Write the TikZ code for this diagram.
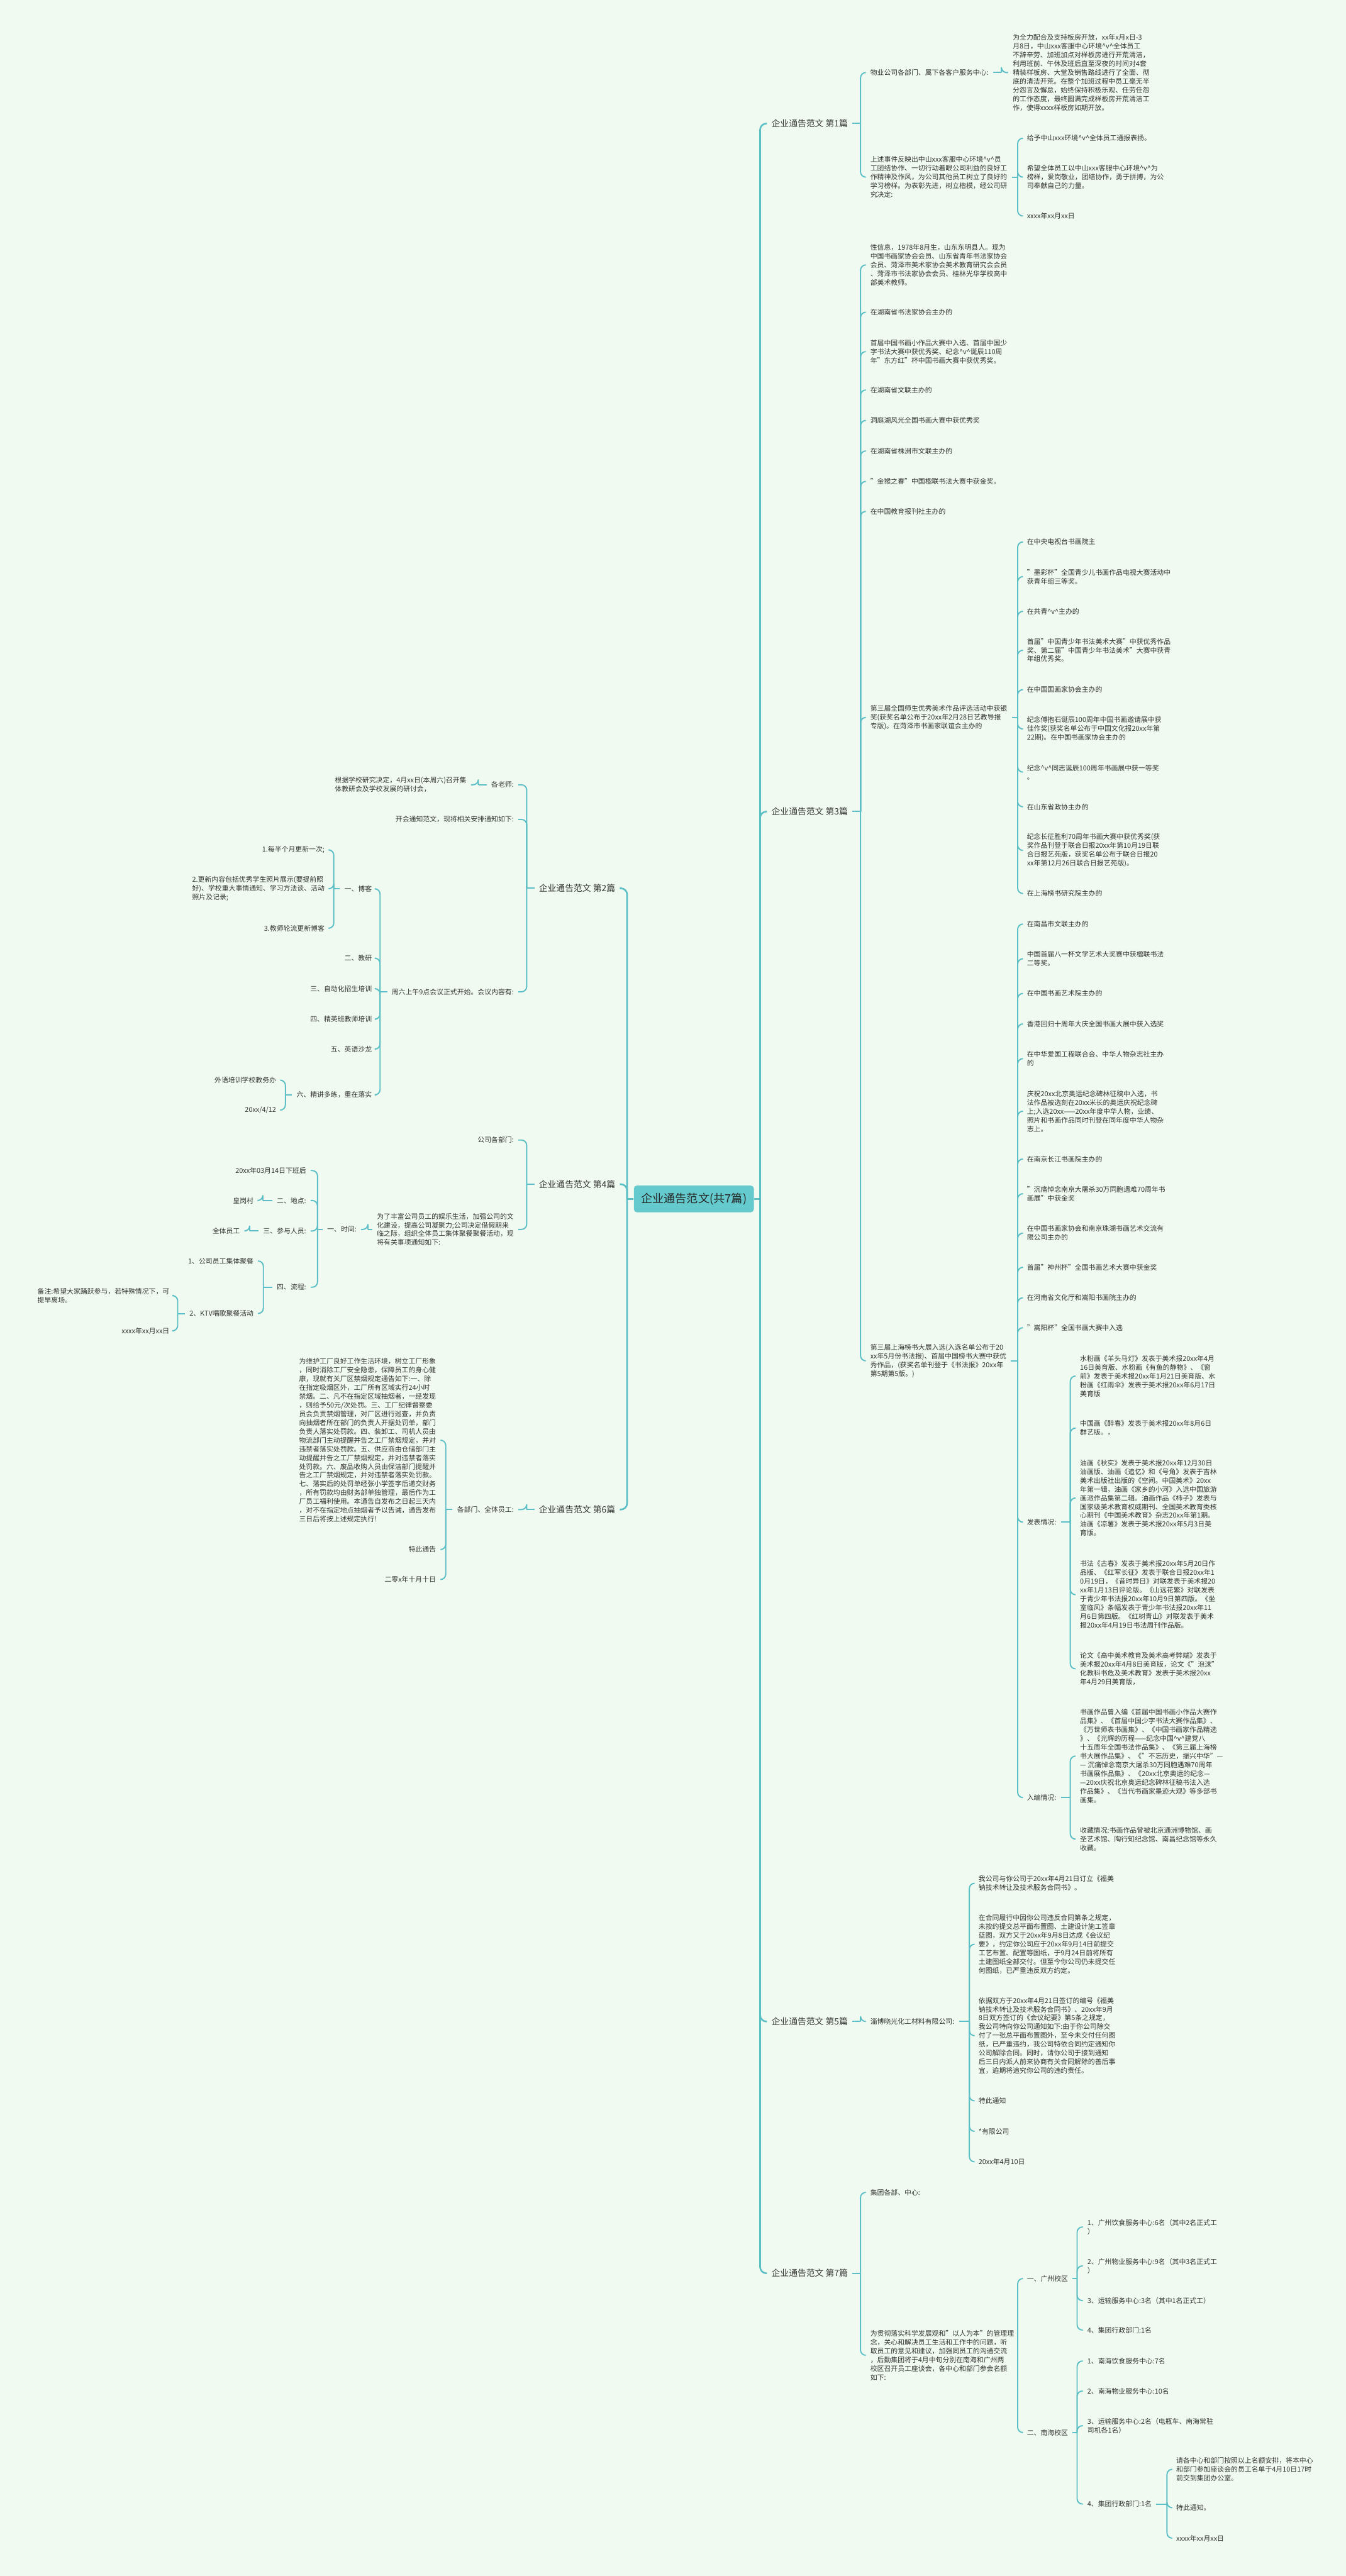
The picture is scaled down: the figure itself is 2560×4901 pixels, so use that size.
\documentclass[tikz,border=0pt]{standalone}
\usepackage{fontspec}
\setmainfont{Noto Sans CJK SC}
\definecolor{bg}{HTML}{F0FAF0}
\definecolor{ln}{HTML}{5CBFC6}
\definecolor{cfill}{HTML}{64CACD}
\definecolor{txt}{HTML}{333333}
\newcommand\vv{\textasciicircum v\textasciicircum}
\tikzset{
  txtnode/.style={font=\fontsize{3.7pt}{4.75pt}\selectfont, text=txt, align=left, inner ysep=1pt, inner xsep=0.08cm},
  rnode/.style={txtnode, anchor=west, xshift=-0.08cm},
  lnode/.style={txtnode, anchor=east, xshift=0.08cm},
  secnode/.style={font=\fontsize{4.7pt}{6pt}\selectfont, text=txt, inner ysep=1pt, inner xsep=0.08cm},
  rsec/.style={secnode, anchor=west, xshift=-0.08cm},
  lsec/.style={secnode, anchor=east, xshift=0.08cm},
  conn/.style={draw=ln, line width=0.65pt, rounded corners=0.1cm},
  mainconn/.style={draw=ln, line width=0.9pt, rounded corners=0.12cm},
  rootnode/.style={fill=cfill, rounded corners=0.06cm, minimum width=2.28cm, minimum height=0.51cm, inner sep=0pt, font=\fontsize{6.2pt}{7pt}\selectfont, text=black!85}
}
\newcommand\rconn[3]{%
  \coordinate (sp) at (#2,0);
  \draw[conn] (#1.east) -- (#1.east -| sp);
  \foreach \cc in {#3}{\draw[conn] (#1.east -| sp) |- (\cc.west);}%
}
\newcommand\lconn[3]{%
  \coordinate (sp) at (#2,0);
  \draw[conn] (#1.west) -- (#1.west -| sp);
  \foreach \cc in {#3}{\draw[conn] (#1.west -| sp) |- (\cc.east);}%
}
\begin{document}
\begin{tikzpicture}[x=0.01cm,y=-0.01cm]
\fill[bg] (0,0) rectangle (2560,4901);
\useasboundingbox (0,0) rectangle (2560,4901);

% root
\node[rootnode] (root) at (1320,2281) {企业通告范文(共7篇)};

% section labels
\node[rsec] (s1) at (1467,235) {企业通告范文 第1篇};
\node[rsec] (s3) at (1467,1544) {企业通告范文 第3篇};
\node[rsec] (s5) at (1467,3846) {企业通告范文 第5篇};
\node[rsec] (s7) at (1467,4325) {企业通告范文 第7篇};
\node[lsec] (s2) at (1171,1690) {企业通告范文 第2篇};
\node[lsec] (s4) at (1171,2253) {企业通告范文 第4篇};
\node[lsec] (s6) at (1171,2872) {企业通告范文 第6篇};

\coordinate (rsp) at (1446,0);
\coordinate (lsp) at (1193,0);
\draw[mainconn] (root.east) -- (root.east -| rsp);
\foreach \s in {s1,s3,s5,s7}{\draw[mainconn] (root.east -| rsp) |- (\s.west);}
\draw[mainconn] (root.west) -- (root.west -| lsp);
\foreach \s in {s2,s4,s6}{\draw[mainconn] (root.west -| lsp) |- (\s.east);}

% ---------------- Section 1
\node[rnode] (a1) at (1655,138) {物业公司各部门、属下各客户服务中心:};
\node[rnode] (a1a) at (1926,138) {为全力配合及支持板房开放，xx年x月x日-3\\月8日，中山xxx客服中心环境\vv 全体员工\\不辞辛劳、加班加点对样板房进行开荒清洁，\\利用班前、午休及班后直至深夜的时间对4套\\精装样板房、大堂及销售路线进行了全面、彻\\底的清洁开荒。在整个加班过程中员工毫无半\\分怨言及懈怠，始终保持积极乐观、任劳任怨\\的工作态度，最终圆满完成样板房开荒清洁工\\作，使得xxxx样板房如期开放。};
\node[rnode] (a2) at (1655,337) {上述事件反映出中山xxx客服中心环境\vv 员\\工团结协作、一切行动着眼公司利益的良好工\\作精神及作风，为公司其他员工树立了良好的\\学习榜样。为表彰先进，树立楷模，经公司研\\究决定:};
\node[rnode] (a2a) at (1953,263) {给予中山xxx环境\vv 全体员工通报表扬。};
\node[rnode] (a2b) at (1953,337) {希望全体员工以中山xxx客服中心环境\vv 为\\榜样，爱岗敬业，团结协作，勇于拼搏，为公\\司奉献自己的力量。};
\node[rnode] (a2c) at (1953,411) {xxxx年xx月xx日};
\rconn{s1}{1637}{a1,a2}
\rconn{a1}{1905}{a1a}
\rconn{a2}{1936}{a2a,a2b,a2c}

% ---------------- Section 3
\node[rnode] (b1) at (1655,504) {性信息，1978年8月生，山东东明县人。现为\\中国书画家协会会员、山东省青年书法家协会\\会员、菏泽市美术家协会美术教育研究会会员\\、菏泽市书法家协会会员、桂林光华学校高中\\部美术教师。};
\node[rnode] (b2) at (1655,594) {在湖南省书法家协会主办的};
\node[rnode] (b3) at (1655,669) {首届中国书画小作品大赛中入选、首届中国少\\字书法大赛中获优秀奖、纪念\vv 诞辰110周\\年"东方红"杯中国书画大赛中获优秀奖。};
\node[rnode] (b4) at (1655,742) {在湖南省文联主办的};
\node[rnode] (b5) at (1655,800) {洞庭湖风光全国书画大赛中获优秀奖};
\node[rnode] (b6) at (1655,858) {在湖南省株洲市文联主办的};
\node[rnode] (b7) at (1655,916) {"金猴之春"中国楹联书法大赛中获金奖。};
\node[rnode] (b8) at (1655,973) {在中国教育报刊社主办的};
\node[rnode] (b9) at (1655,1365) {第三届全国师生优秀美术作品评选活动中获银\\奖(获奖名单公布于20xx年2月28日艺教导报\\专版)。在菏泽市书画家联谊会主办的};
\node[rnode] (b10) at (1655,2589) {第三届上海榜书大展入选(入选名单公布于20\\xx年5月份书法报)、首届中国榜书大赛中获优\\秀作品，(获奖名单刊登于《书法报》20xx年\\第5期第5版。)};
\rconn{s3}{1637}{b1,b2,b3,b4,b5,b6,b7,b8,b9,b10}

\node[rnode] (c1) at (1953,1031) {在中央电视台书画院主};
\node[rnode] (c2) at (1953,1097) {"墨彩杯"全国青少儿书画作品电视大赛活动中\\获青年组三等奖。};
\node[rnode] (c3) at (1953,1163) {在共青\vv 主办的};
\node[rnode] (c4) at (1953,1237) {首届"中国青少年书法美术大赛"中获优秀作品\\奖、第二届"中国青少年书法美术"大赛中获青\\年组优秀奖。};
\node[rnode] (c5) at (1953,1312) {在中国国画家协会主办的};
\node[rnode] (c6) at (1953,1387) {纪念傅抱石诞辰100周年中国书画邀请展中获\\佳作奖(获奖名单公布于中国文化报20xx年第\\22期)。在中国书画家协会主办的};
\node[rnode] (c7) at (1953,1469) {纪念\vv 同志诞辰100周年书画展中获一等奖\\。};
\node[rnode] (c8) at (1953,1535) {在山东省政协主办的};
\node[rnode] (c9) at (1953,1618) {纪念长征胜利70周年书画大赛中获优秀奖(获\\奖作品刊登于联合日报20xx年第10月19日联\\合日报艺苑版，获奖名单公布于联合日报20\\xx年第12月26日联合日报艺苑版)。};
\node[rnode] (c10) at (1953,1700) {在上海榜书研究院主办的};
\rconn{b9}{1936}{c1,c2,c3,c4,c5,c6,c7,c8,c9,c10}

\node[rnode] (d1) at (1953,1758) {在南昌市文联主办的};
\node[rnode] (d2) at (1953,1824) {中国首届八一杯文学艺术大奖赛中获楹联书法\\二等奖。};
\node[rnode] (d3) at (1953,1890) {在中国书画艺术院主办的};
\node[rnode] (d4) at (1953,1948) {香港回归十周年大庆全国书画大展中获入选奖};
\node[rnode] (d5) at (1953,2014) {在中华爱国工程联合会、中华人物杂志社主办\\的};
\node[rnode] (d6) at (1953,2114) {庆祝20xx北京奥运纪念碑林征稿中入选，书\\法作品被选刻在20xx米长的奥运庆祝纪念碑\\上;入选20xx——20xx年度中华人物，业绩、\\照片和书画作品同时刊登在同年度中华人物杂\\志上。};
\node[rnode] (d7) at (1953,2205) {在南京长江书画院主办的};
\node[rnode] (d8) at (1953,2271) {"沉痛悼念南京大屠杀30万同胞遇难70周年书\\画展"中获金奖};
\node[rnode] (d9) at (1953,2346) {在中国书画家协会和南京珠湖书画艺术交流有\\限公司主办的};
\node[rnode] (d10) at (1953,2411) {首届"神州杯"全国书画艺术大赛中获金奖};
\node[rnode] (d11) at (1953,2469) {在河南省文化厅和嵩阳书画院主办的};
\node[rnode] (d12) at (1953,2526) {"嵩阳杯"全国书画大赛中入选};
\node[rnode] (d13) at (1953,2896) {发表情况:};
\node[rnode] (d14) at (1953,3420) {入编情况:};
\rconn{b10}{1936}{d1,d2,d3,d4,d5,d6,d7,d8,d9,d10,d11,d12,d13,d14}

\node[rnode] (e1) at (2054,2618) {水粉画《羊头马灯》发表于美术报20xx年4月\\16日美育版、水粉画《有鱼的静物》、《窗\\前》发表于美术报20xx年1月21日美育版、水\\粉画《红雨伞》发表于美术报20xx年6月17日\\美育版};
\node[rnode] (e2) at (2054,2717) {中国画《醉春》发表于美术报20xx年8月6日\\群艺版。，};
\node[rnode] (e3) at (2054,2850) {油画《秋实》发表于美术报20xx年12月30日\\油画版、油画《追忆》和《号角》发表于吉林\\美术出版社出版的《空间。中国美术》20xx\\年第一辑，油画《家乡的小河》入选中国旅游\\画派作品集第二辑。油画作品《柿子》发表与\\国家级美术教育权威期刊、全国美术教育类核\\心期刊《中国美术教育》杂志20xx年第1期。\\油画《凉薯》发表于美术报20xx年5月3日美\\育版。};
\node[rnode] (e4) at (2054,3034) {书法《古春》发表于美术报20xx年5月20日作\\品版、《红军长征》发表于联合日报20xx年1\\0月19日，《昔时异日》对联发表于美术报20\\xx年1月13日评论版。《山远花繁》对联发表\\于青少年书法报20xx年10月9日第四版。《坐\\室临风》条幅发表于青少年书法报20xx年11\\月6日第四版。《红树青山》对联发表于美术\\报20xx年4月19日书法周刊作品版。};
\node[rnode] (e5) at (2054,3175) {论文《高中美术教育及美术高考弊端》发表于\\美术报20xx年4月8日美育版，论文《"泡沫"\\化教科书危及美术教育》发表于美术报20xx\\年4月29日美育版，};
\rconn{d13}{2036}{e1,e2,e3,e4,e5}

\node[rnode] (f1) at (2054,3341) {书画作品曾入编《首届中国书画小作品大赛作\\品集》、《首届中国少字书法大赛作品集》、\\《万世师表书画集》、《中国书画家作品精选\\》、《光辉的历程——纪念中国\vv 建党八\\十五周年全国书法作品集》、《第三届上海榜\\书大展作品集》、《"不忘历史，振兴中华"—\\— 沉痛悼念南京大屠杀30万同胞遇难70周年\\书画展作品集》、《20xx北京奥运的纪念—\\—20xx庆祝北京奥运纪念碑林征稿书法入选\\作品集》、《当代书画家墨迹大观》等多部书\\画集。};
\node[rnode] (f2) at (2054,3499) {收藏情况:书画作品曾被北京通洲博物馆、画\\圣艺术馆、陶行知纪念馆、南昌纪念馆等永久\\收藏。};
\rconn{d14}{2036}{f1,f2}

% ---------------- Section 5
\node[rnode] (g0) at (1655,3846) {淄博晓光化工材料有限公司:};
\rconn{s5}{1637}{g0}
\node[rnode] (g1) at (1861,3583) {我公司与你公司于20xx年4月21日订立《福美\\钠技术转让及技术服务合同书》。};
\node[rnode] (g2) at (1861,3699) {在合同履行中因你公司违反合同第条之规定，\\未按约提交总平面布置图、土建设计施工签章\\蓝图，双方又于20xx年9月8日达成《会议纪\\要》，约定你公司应于20xx年9月14日前提交\\工艺布置、配置等图纸，于9月24日前将所有\\土建图纸全部交付。但至今你公司仍未提交任\\何图纸，已严重违反双方约定。};
\node[rnode] (g3) at (1861,3873) {依据双方于20xx年4月21日签订的编号《福美\\钠技术转让及技术服务合同书》、20xx年9月\\8日双方签订的《会议纪要》第5条之规定，\\我公司特向你公司通知如下:由于你公司除交\\付了一张总平面布置图外，至今未交付任何图\\纸，已严重违约，我公司特依合同约定通知你\\公司解除合同。同时，请你公司于接到通知\\后三日内派人前来协商有关合同解除的善后事\\宜，逾期将追究你公司的违约责任。};
\node[rnode] (g4) at (1861,3997) {特此通知};
\node[rnode] (g5) at (1861,4055) {*有限公司};
\node[rnode] (g6) at (1861,4113) {20xx年4月10日};
\rconn{g0}{1844}{g1,g2,g3,g4,g5,g6}

% ---------------- Section 7
\node[rnode] (h1) at (1655,4171) {集团各部、中心:};
\node[rnode] (h2) at (1655,4481) {为贯彻落实科学发展观和"以人为本"的管理理\\念，关心和解决员工生活和工作中的问题，听\\取员工的意见和建议，加强同员工的沟通交流\\，后勤集团将于4月中旬分别在南海和广州两\\校区召开员工座谈会，各中心和部门参会名额\\如下:};
\rconn{s7}{1637}{h1,h2}
\node[rnode] (i1) at (1953,4335) {一、广州校区};
\node[rnode] (i2) at (1953,4628) {二、南海校区};
\rconn{h2}{1936}{i1,i2}
\node[rnode] (j1) at (2068,4237) {1、广州饮食服务中心:6名（其中2名正式工\\）};
\node[rnode] (j2) at (2068,4311) {2、广州物业服务中心:9名（其中3名正式工\\）};
\node[rnode] (j3) at (2068,4377) {3、运输服务中心:3名（其中1名正式工）};
\node[rnode] (j4) at (2068,4433) {4、集团行政部门:1名};
\rconn{i1}{2049}{j1,j2,j3,j4}
\node[rnode] (k1) at (2068,4492) {1、南海饮食服务中心:7名};
\node[rnode] (k2) at (2068,4549) {2、南海物业服务中心:10名};
\node[rnode] (k3) at (2068,4615) {3、运输服务中心:2名（电瓶车、南海常驻\\司机各1名）};
\node[rnode] (k4) at (2068,4764) {4、集团行政部门:1名};
\rconn{i2}{2049}{k1,k2,k3,k4}
\node[rnode] (m1) at (2237,4698) {请各中心和部门按照以上名额安排，将本中心\\和部门参加座谈会的员工名单于4月10日17时\\前交到集团办公室。};
\node[rnode] (m2) at (2237,4771) {特此通知。};
\node[rnode] (m3) at (2237,4829) {xxxx年xx月xx日};
\rconn{k4}{2220}{m1,m2,m3}

% ---------------- Section 2 (left)
\node[lnode] (n1) at (978,1493) {各老师:};
\node[lnode] (n2) at (978,1559) {开会通知范文，现将相关安排通知如下:};
\node[lnode] (n3) at (978,1887) {周六上午9点会议正式开始。会议内容有:};
\lconn{s2}{1002}{n1,n2,n3}
\node[lnode] (n1a) at (888,1493) {根据学校研究决定，4月xx日(本周六)召开集\\体教研会及学校发展的研讨会，};
\lconn{n1}{910}{n1a}
\node[lnode] (p1) at (708,1691) {一、博客};
\node[lnode] (p2) at (708,1823) {二、教研};
\node[lnode] (p3) at (708,1881) {三、自动化招生培训};
\node[lnode] (p4) at (708,1939) {四、精英班教师培训};
\node[lnode] (p5) at (708,1996) {五、英语沙龙};
\node[lnode] (p6) at (708,2083) {六、精讲多练，重在落实};
\lconn{n3}{723}{p1,p2,p3,p4,p5,p6}
\node[lnode] (q1) at (618,1617) {1.每半个月更新一次;};
\node[lnode] (q2) at (618,1691) {2.更新内容包括优秀学生照片展示(要提前照\\好)、学校重大事情通知、学习方法谈、活动\\照片及记录;};
\node[lnode] (q3) at (618,1766) {3.教师轮流更新博客};
\lconn{p1}{635}{q1,q2,q3}
\node[lnode] (r1) at (526,2055) {外语培训学校教务办};
\node[lnode] (r2) at (526,2112) {20xx/4/12};
\lconn{p6}{543}{r1,r2}

% ---------------- Section 4 (left)
\node[lnode] (t0) at (978,2169) {公司各部门:};
\node[lnode] (t5) at (978,2339) {为了丰富公司员工的娱乐生活，加强公司的文\\化建设，提高公司凝聚力;公司决定借假期来\\临之际，组织全体员工集体聚餐聚餐活动，现\\将有关事项通知如下:};
\lconn{s4}{1002}{t0,t5}
\node[lnode] (tm) at (679,2339) {一、时间:};
\lconn{t5}{700}{tm}
\node[lnode] (u1) at (583,2227) {20xx年03月14日下班后};
\node[lnode] (u2) at (583,2284) {二、地点:};
\node[lnode] (u3) at (583,2342) {三、参与人员:};
\node[lnode] (u4) at (583,2449) {四、流程:};
\lconn{tm}{604}{u1,u2,u3,u4}
\node[lnode] (u2a) at (483,2284) {皇岗村};
\lconn{u2}{500}{u2a}
\node[lnode] (u3a) at (457,2342) {全体员工};
\lconn{u3}{475}{u3a}
\node[lnode] (v1) at (483,2399) {1、公司员工集体聚餐};
\node[lnode] (v2) at (483,2499) {2、KTV唱歌聚餐活动};
\lconn{u4}{501}{v1,v2}
\node[lnode] (w1) at (323,2465) {备注:希望大家踊跃参与，若特殊情况下，可\\提早离场。};
\node[lnode] (w2) at (323,2532) {xxxx年xx月xx日};
\lconn{v2}{338}{w1,w2}

% ---------------- Section 6 (left)
\node[lnode] (x0) at (978,2872) {各部门、全体员工:};
\lconn{s6}{1002}{x0}
\node[lnode] (x1) at (830,2740) {为维护工厂良好工作生活环境，树立工厂形象\\，同时消除工厂安全隐患，保障员工的身心健\\康，现就有关厂区禁烟规定通告如下:一、除\\在指定吸烟区外，工厂所有区域实行24小时\\禁烟。二、凡不在指定区域抽烟者，一经发现\\，则给予50元/次处罚。三、工厂纪律督察委\\员会负责禁烟管理，对厂区进行巡查，并负责\\向抽烟者所在部门的负责人开据处罚单，部门\\负责人落实处罚款。四、装卸工、司机人员由\\物流部门主动提醒并告之工厂禁烟规定，并对\\违禁者落实处罚款。五、供应商由仓储部门主\\动提醒并告之工厂禁烟规定，并对违禁者落实\\处罚款。六、废品收购人员由保洁部门提醒并\\告之工厂禁烟规定，并对违禁者落实处罚款。\\七、落实后的处罚单经张小学签字后递交财务\\，所有罚款均由财务部单独管理，最后作为工\\厂员工福利使用。本通告自发布之日起三天内\\，对不在指定地点抽烟者予以告诫，通告发布\\三日后将按上述规定执行!};
\node[lnode] (x2) at (830,2948) {特此通告};
\node[lnode] (x3) at (830,3005) {二零x年十月十日};
\lconn{x0}{848}{x1,x2,x3}
\end{tikzpicture}
\end{document}
